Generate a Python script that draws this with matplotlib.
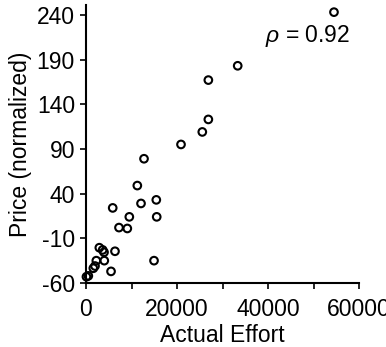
import matplotlib
matplotlib.use("Agg")
import matplotlib.pyplot as plt
from matplotlib.ticker import MultipleLocator

plt.rcParams['font.family'] = ['Liberation Sans', 'DejaVu Sans']
plt.rcParams['axes.unicode_minus'] = False
plt.rcParams['mathtext.fontset'] = 'custom'
plt.rcParams['mathtext.it'] = 'Liberation Sans:italic'
plt.rcParams['mathtext.rm'] = 'Liberation Sans'

actual_effort = [54500, 33340, 26890, 26890, 25560, 20880, 12750, 11280, 12090, 15450,
                 5870, 9520, 15540, 7250, 9080, 2930, 3660, 3960, 6370, 2270,
                 4020, 14950, 1980, 1610, 5500, 510, 100]
price = [243, 183, 167, 123, 109, 95, 79, 49, 29, 33,
         24, 14, 14, 2, 1, -20.5, -23, -25.6, -24.5, -35,
         -35, -35, -41, -43.5, -47, -52, -53]
x_ticks = [0, 20000, 40000, 60000]
y_ticks = [-60, -10, 40, 90, 140, 190, 240]
rho_text = r'$\rho$ = 0.92'

fig = plt.figure(figsize=(3.86, 3.47), dpi=100)
ax = fig.add_axes([86/386, 1-283/347, 273/386, 278/347])
ax.scatter(actual_effort, price, s=30, facecolors='none', edgecolors='black',
           linewidths=1.5, clip_on=False, zorder=3)
ax.set_xlim(0, 60000)
ax.set_ylim(-60, 251)
ax.set_xticks(x_ticks)
ax.set_xticklabels([str(v) for v in x_ticks])
ax.xaxis.set_minor_locator(MultipleLocator(10000))
ax.set_yticks(y_ticks)
ax.set_yticklabels([str(v) for v in y_ticks])
for s in ['top', 'right']:
    ax.spines[s].set_visible(False)
for s in ['left', 'bottom']:
    ax.spines[s].set_linewidth(1.5)
ax.tick_params(axis='both', which='major', length=4, width=1.2, labelsize=16.5, direction='out')
ax.tick_params(axis='x', which='major', pad=7)
ax.tick_params(axis='y', which='major', pad=4)
ax.tick_params(axis='x', which='minor', length=4, width=1.2, direction='out')
ax.set_xlabel('Actual Effort', fontsize=16.5, labelpad=2)
ax.set_ylabel('Price (normalized)', fontsize=16.5, labelpad=3)
ax.text(0.656, 0.888, rho_text, transform=ax.transAxes, fontsize=16.5, va='center', ha='left')
fig.savefig('out.png', dpi=100)
